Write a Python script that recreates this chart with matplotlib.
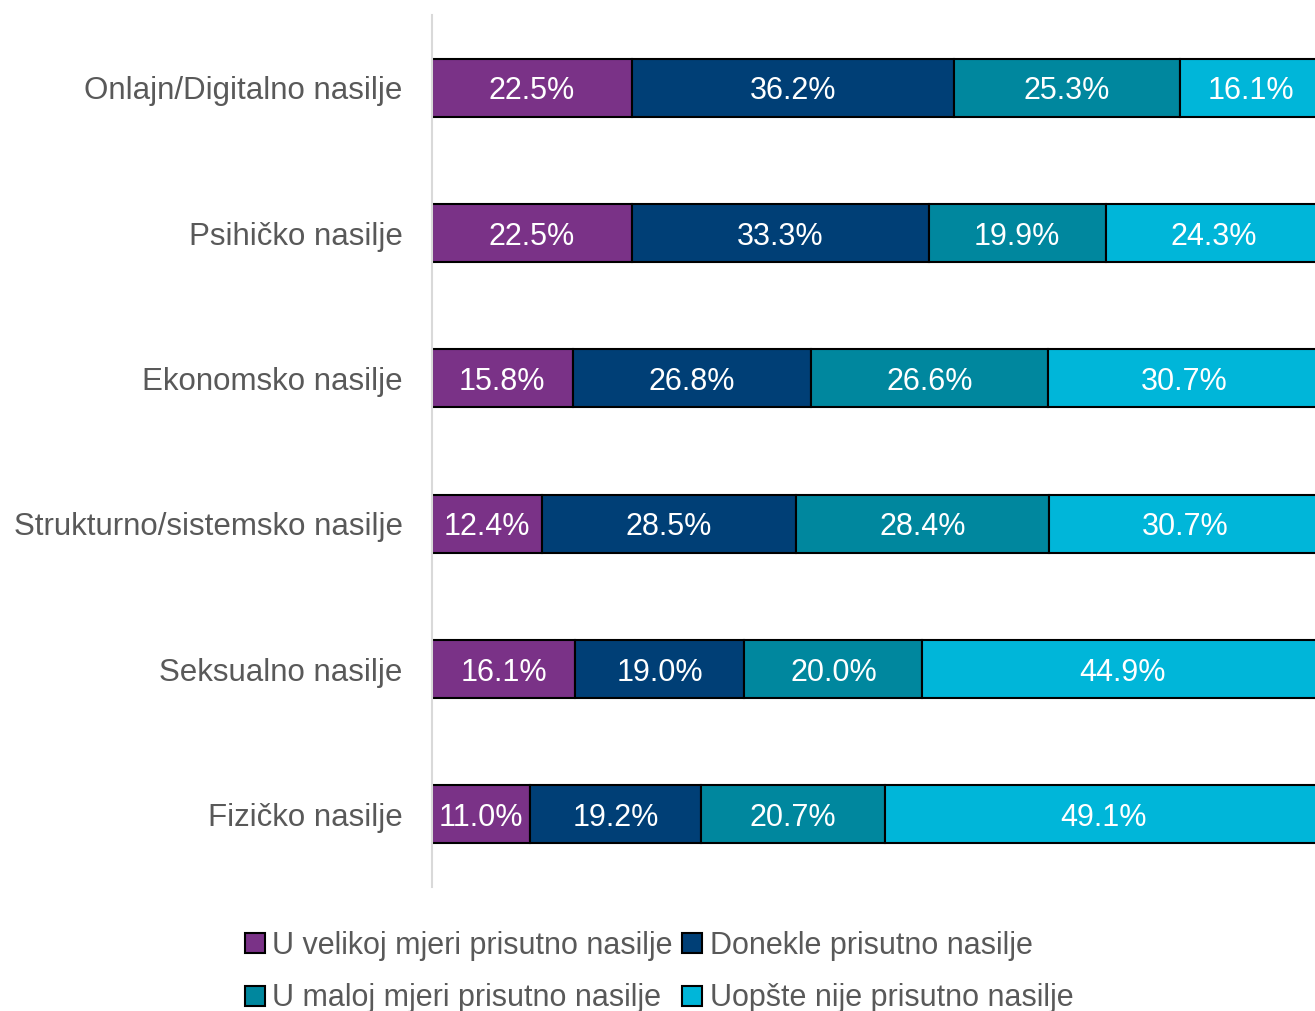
import matplotlib
matplotlib.use("Agg")
import matplotlib.pyplot as plt
import numpy as np

plt.rcParams['font.family'] = ['Liberation Sans', 'DejaVu Sans']

categories = ["Onlajn/Digitalno nasilje", "Psihičko nasilje", "Ekonomsko nasilje",
              "Strukturno/sistemsko nasilje", "Seksualno nasilje", "Fizičko nasilje"]
series_names = ["U velikoj mjeri prisutno nasilje", "Donekle prisutno nasilje",
                "U maloj mjeri prisutno nasilje", "Uopšte nije prisutno nasilje"]
velika = [22.5, 22.5, 15.8, 12.4, 16.1, 11.0]
donekle = [36.2, 33.3, 26.8, 28.5, 19.0, 19.2]
malo = [25.3, 19.9, 26.6, 28.4, 20.0, 20.7]
uopste = [16.1, 24.3, 30.7, 30.7, 44.9, 49.1]
colors = ["#7A3287", "#003F76", "#00879E", "#00B6D9"]

fig = plt.figure(figsize=(13.15, 10.11), dpi=100)
# plot area extends slightly beyond the right edge of the image (cropped, as in the reference)
ax = fig.add_axes([432/1315, 1 - 887/1011, 890/1315, 872/1011])

y = np.arange(len(categories))
left = np.zeros(len(categories))
for vals, name, col in zip([velika, donekle, malo, uopste], series_names, colors):
    vals = np.array(vals)
    ax.barh(y, vals, left=left, height=0.4, color=col, edgecolor='black',
            linewidth=1.5, label=name)
    for yi, l, v in zip(y, left, vals):
        ax.text(l + v / 2, yi, f"{v:.1f}%", ha='center', va='center_baseline',
                color='white', fontsize=22)
    left += vals

ax.set_xlim(0, 100)
ax.set_ylim(len(categories) - 0.5, -0.5)
ax.set_yticks(y)
ax.set_yticklabels(categories, fontsize=22.5, color='#595959')
ax.tick_params(axis='y', length=0, pad=21)
ax.set_xticks([])
for s in ['top', 'right', 'bottom']:
    ax.spines[s].set_visible(False)
ax.spines['left'].set_color('#D9D9D9')
ax.spines['left'].set_linewidth(1.5)

handles, labels = ax.get_legend_handles_labels()
order = [0, 2, 1, 3]
leg = fig.legend([handles[i] for i in order], [labels[i] for i in order],
                 loc='center', bbox_to_anchor=(659/1315, 1 - 972/1011), ncol=2,
                 frameon=False, fontsize=22, handlelength=0.65, handleheight=0.65,
                 handletextpad=0.25, columnspacing=0.3, labelspacing=0.75,
                 labelcolor='#595959')

fig.savefig("out.png", dpi=100)
